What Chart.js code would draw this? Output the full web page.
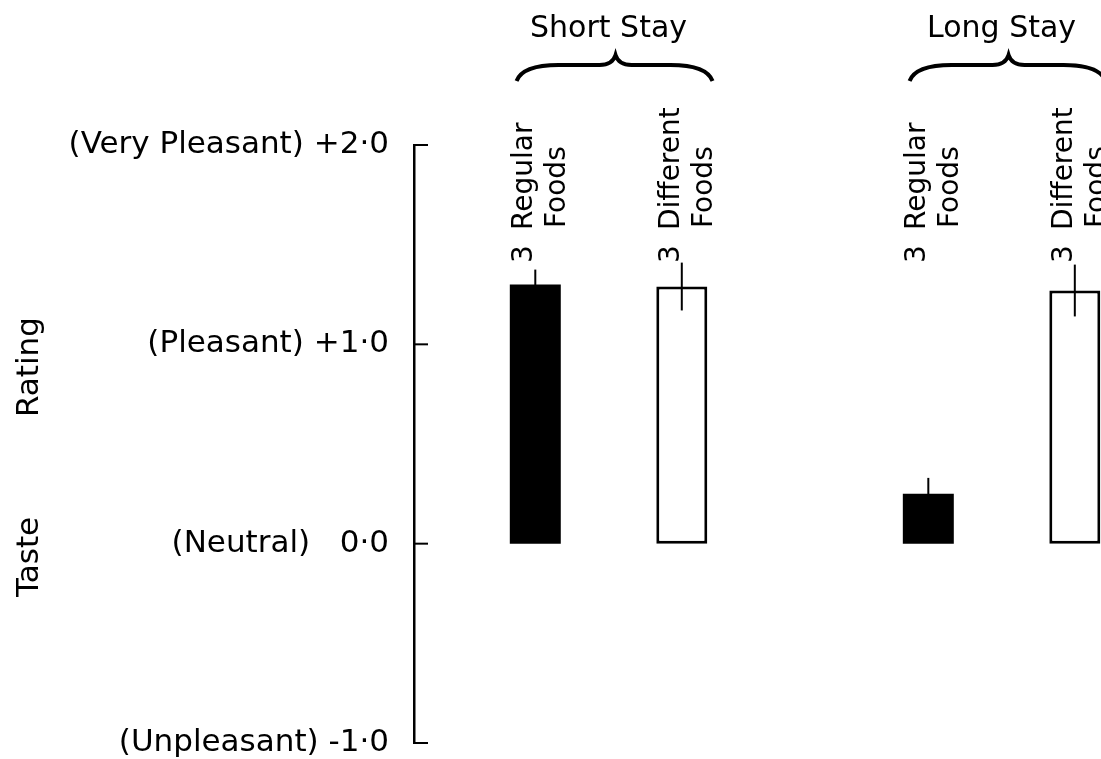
<!DOCTYPE html>
<html>
<head>
<meta charset="utf-8">
<title>Taste Rating</title>
<script src="https://cdn.jsdelivr.net/npm/chart.js@4.4.1/dist/chart.umd.min.js"></script>
<style>
  html, body { margin: 0; padding: 0; background: #fff; overflow: hidden; }
  canvas { display: block; }
</style>
</head>
<body>
<canvas id="chart" width="1101" height="759"></canvas>
<script>
// data
const groups = ['Short Stay', 'Long Stay'];
const foodTypes = ['Regular Foods', 'Different Foods'];
const regularFoods = [1.30, 0.25];
const differentFoods = [1.29, 1.27];
const regularErr = [0.075, 0.08];
const differentErr = [0.12, 0.13];
const nLabel = '3';
const yTicks = [-1, 0, 1, 2];
const yTickLabels = ['(Unpleasant) -1·0', '(Neutral)   0·0', '(Pleasant) +1·0', '(Very Pleasant) +2·0'];
const yTitleWords = ['Taste', 'Rating'];

const FONT = 'DejaVu Sans';
Chart.defaults.font.family = FONT;
Chart.defaults.color = '#000';

const decor = {
    id: 'decor',
    afterDatasetsDraw(chart) {
        const ctx = chart.ctx;
        const y = chart.scales.y;
        const area = chart.chartArea;
        ctx.save();
        ctx.strokeStyle = '#000';
        ctx.fillStyle = '#000';
        ctx.lineWidth = 2;

        // inward ticks on the y axis
        yTicks.forEach(v => {
            const py = y.getPixelForValue(v);
            ctx.beginPath();
            ctx.moveTo(area.left - 1, py);
            ctx.lineTo(area.left + 14, py);
            ctx.stroke();
        });

        // error bars + rotated bar labels
        chart.data.datasets.forEach((ds, di) => {
            const lines = foodTypes[di].split(' ');
            chart.getDatasetMeta(di).data.forEach((bar, i) => {
                const v = ds.data[i].y, e = ds.errors[i];
                ctx.beginPath();
                ctx.moveTo(bar.x, y.getPixelForValue(v + e));
                ctx.lineTo(bar.x, y.getPixelForValue(v - e));
                ctx.stroke();

                ctx.save();
                ctx.translate(bar.x, 0);
                ctx.rotate(-Math.PI / 2);
                ctx.font = '28px "' + FONT + '"';
                ctx.textAlign = 'left';
                ctx.textBaseline = 'alphabetic';
                ctx.fillText(nLabel, -263, -3);
                ctx.fillText(lines[0], -230, -3);
                ctx.fillText(lines[1], -228, 30);
                ctx.restore();
            });
        });

        // braces over each group
        const m0 = chart.getDatasetMeta(0).data, m1 = chart.getDatasetMeta(1).data;
        ctx.lineWidth = 4;
        groups.forEach((g, i) => {
            const c = (m0[i].x + m1[i].x) / 2;
            const x0 = c - 92, x1 = c + 104, tip = c + 7;
            const yEnd = 81, yMid = 65, yTip = 55;
            ctx.beginPath();
            ctx.moveTo(x0, yEnd);
            ctx.quadraticCurveTo(x0 + 6, yMid, x0 + 42, yMid);
            ctx.lineTo(tip - 16, yMid);
            ctx.quadraticCurveTo(tip - 3, yMid, tip, yTip);
            ctx.quadraticCurveTo(tip + 3, yMid, tip + 16, yMid);
            ctx.lineTo(x1 - 42, yMid);
            ctx.quadraticCurveTo(x1 - 6, yMid, x1, yEnd);
            ctx.stroke();
        });

        // y axis title, two separate words
        ctx.font = '31px "' + FONT + '"';
        ctx.textAlign = 'left';
        ctx.textBaseline = 'alphabetic';
        [[yTitleWords[0], 597], [yTitleWords[1], 417]].forEach(([w, py]) => {
            ctx.save();
            ctx.translate(38, py);
            ctx.rotate(-Math.PI / 2);
            ctx.fillText(w, 0, 0);
            ctx.restore();
        });
        ctx.restore();
    }
};

new Chart(document.getElementById('chart'), {
    type: 'bar',
    data: {
        datasets: [
            {
                label: foodTypes[0],
                data: groups.map((g, i) => ({ x: i, y: regularFoods[i] })),
                errors: regularErr,
                backgroundColor: '#000',
                borderColor: '#000',
                borderWidth: 0
            },
            {
                label: foodTypes[1],
                data: groups.map((g, i) => ({ x: i, y: differentFoods[i] })),
                errors: differentErr,
                backgroundColor: '#fff',
                borderColor: '#000',
                borderWidth: 3
            }
        ]
    },
    options: {
        responsive: false,
        animation: false,
        devicePixelRatio: 1,
        layout: { padding: { left: 0, right: 0, top: 0, bottom: 16 } },
        datasets: {
            bar: {
                borderSkipped: false,
                borderRadius: 0,
                categoryPercentage: 0.7455,
                barPercentage: 0.348
            }
        },
        plugins: { legend: { display: false }, tooltip: { enabled: false } },
        scales: {
            x: {
                type: 'linear',
                position: 'top',
                offset: false,
                min: -0.495,
                max: 1.253,
                grid: { display: false, drawTicks: false },
                border: { display: false },
                ticks: {
                    autoSkip: false,
                    maxRotation: 0,
                    minRotation: 0,
                    padding: 98,
                    font: { size: 30 },
                    callback: v => groups[v]
                },
                afterBuildTicks: s => { s.ticks = groups.map((g, i) => ({ value: i })); },
                afterFit: s => {
                    s.height = 145;
                    s.paddingLeft = 0;
                    s.paddingRight = 0;
                }
            },
            y: {
                min: -1,
                max: 2,
                grid: { display: false, drawTicks: false },
                border: { display: true, color: '#000', width: 2.5 },
                ticks: {
                    stepSize: 1,
                    padding: 25,
                    font: { size: 31, lineHeight: 1 },
                    callback: v => yTickLabels[yTicks.indexOf(v)]
                },
                afterFit: s => {
                    s.width = 414;
                    s.paddingTop = 0;
                    s.paddingBottom = 0;
                }
            }
        }
    },
    plugins: [decor]
});
</script>
</body>
</html>
